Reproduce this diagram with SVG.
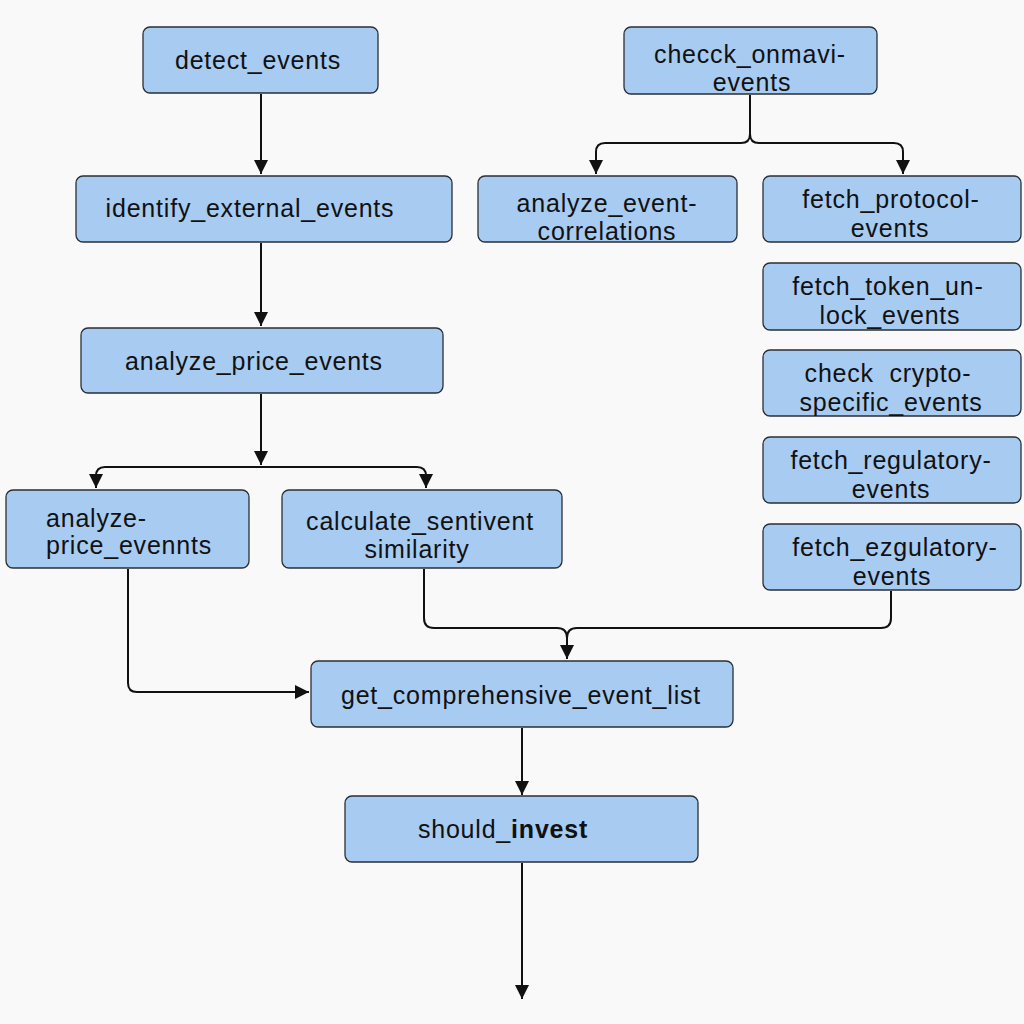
<svg xmlns="http://www.w3.org/2000/svg" width="1024" height="1024" viewBox="0 0 1024 1024">
<defs>
<marker id="ah" viewBox="0 0 10 10" refX="10" refY="5" markerWidth="14" markerHeight="14" markerUnits="userSpaceOnUse" orient="auto"><path d="M0,0 L10,5 L0,10 z" fill="#111"/></marker>
<style>
.n rect{fill:#a8cbf2;stroke:#2a2f36;stroke-width:1.3}
.n text{font-family:"Liberation Sans",Arial,sans-serif;font-size:25px;letter-spacing:0.8px;fill:#111;text-anchor:middle}
.n text.l{text-anchor:start}
.n text.pre{white-space:pre}
.c path{fill:none;stroke:#111;stroke-width:2}
</style>
</defs>
<rect width="1024" height="1024" fill="#f9f9f9"/>
<g class="c">
<path d="M261,94 V174" marker-end="url(#ah)"/>
<path d="M261,243 V326" marker-end="url(#ah)"/>
<path d="M261,394 V465" marker-end="url(#ah)"/>
<path d="M96,488 V476 Q96,467 105,467 H417 Q426,467 426,476 V488" marker-end="url(#ah)"/>
<path d="M96,476 V488" marker-end="url(#ah)"/>
<path d="M750,95 V134 Q750,143 741,143 H605 Q596,143 596,152 V174" marker-end="url(#ah)"/>
<path d="M750,134 Q750,143 759,143 H894 Q903,143 903,152 V174" marker-end="url(#ah)"/>
<path d="M128,569 V683 Q128,692 137,692 H309" marker-end="url(#ah)"/>
<path d="M424,569 V618 Q424,628 434,628 H557 Q567,628 567,638 Q567,628 577,628 H881 Q891,628 891,618 V591"/>
<path d="M567,638 V659" marker-end="url(#ah)"/>
<path d="M522,728 V795" marker-end="url(#ah)"/>
<path d="M522,863 V999" marker-end="url(#ah)"/>
</g>
<g id="detect_events" class="n"><rect x="143" y="27" width="235" height="66" rx="7"/><text x="258" y="69">detect_events</text></g>
<g id="identify_external_events" class="n"><rect x="76" y="176" width="376" height="66" rx="7"/><text x="250" y="217">identify_external_events</text></g>
<g id="analyze_price_events" class="n"><rect x="81" y="328" width="362" height="65" rx="7"/><text x="254" y="370">analyze_price_events</text></g>
<g id="analyze_price_evennts" class="n"><rect x="6" y="490" width="243" height="78" rx="7"/><text class="l" x="46" y="527">analyze-</text><text class="l" x="46" y="554">price_evennts</text></g>
<g id="calculate_sentivent" class="n"><rect x="282" y="490" width="280" height="78" rx="7"/><text x="420" y="530">calculate_sentivent</text><text x="417" y="558">similarity</text></g>
<g id="check_onmavi_events" class="n"><rect x="624" y="27" width="253" height="67" rx="7"/><text x="750" y="63">checck_onmavi-</text><text x="752" y="91">events</text></g>
<g id="analyze_event_correlations" class="n"><rect x="478" y="176" width="259" height="66" rx="7"/><text x="607" y="212">analyze_event-</text><text x="607" y="240">correlations</text></g>
<g id="fetch_protocol_events" class="n"><rect x="763" y="176" width="258" height="66" rx="7"/><text x="891" y="208">fetch_protocol-</text><text x="890" y="237">events</text></g>
<g id="fetch_token_unlock_events" class="n"><rect x="763" y="263" width="258" height="67" rx="7"/><text x="888" y="295">fetch_token_un-</text><text x="890" y="324">lock_events</text></g>
<g id="check_crypto_specific_events" class="n"><rect x="763" y="350" width="258" height="66" rx="7"/><text class="pre" x="888" y="382">check  crypto-</text><text x="891" y="411">specific_events</text></g>
<g id="fetch_regulatory_events" class="n"><rect x="763" y="437" width="258" height="66" rx="7"/><text x="891" y="469">fetch_regulatory-</text><text x="891" y="498">events</text></g>
<g id="fetch_ezgulatory_events" class="n"><rect x="763" y="524" width="258" height="66" rx="7"/><text x="895" y="556">fetch_ezgulatory-</text><text x="892" y="585">events</text></g>
<g id="get_comprehensive_event_list" class="n"><rect x="311" y="661" width="422" height="66" rx="7"/><text x="521" y="704">get_comprehensive_event_list</text></g>
<g id="should_invest" class="n"><rect x="345" y="796" width="353" height="66" rx="7"/><text x="503" y="838">should_<tspan font-weight="bold">invest</tspan></text></g>
</svg>
